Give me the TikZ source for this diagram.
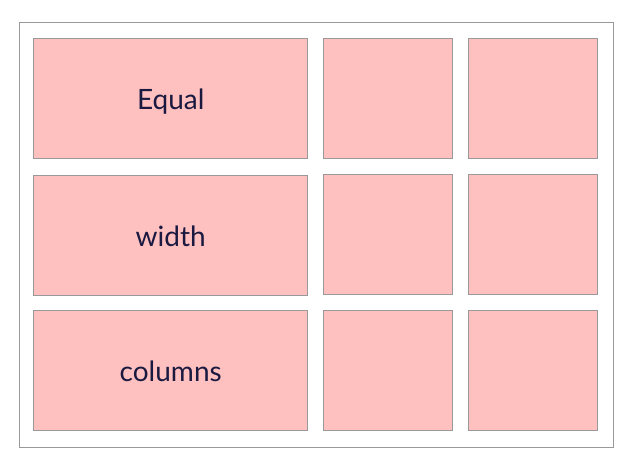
\documentclass[tikz,border=0pt]{standalone}
\usepackage{fontspec}
\setmainfont{Lato}
\usepackage{xcolor}
\definecolor{cellpink}{HTML}{FFC0C0}
\definecolor{cellline}{HTML}{999999}
\definecolor{celltext}{HTML}{1A1A40}

\begin{document}
\begin{tikzpicture}[x=1pt,y=-1pt,
    cell/.style={draw=cellline, fill=cellpink, line width=0.8pt, anchor=north west,
                 inner sep=0pt, text height=21pt, text depth=0pt,
                 font=\fontsize{28}{32}\selectfont, text=celltext},
    widecell/.style={cell, minimum width=274pt, minimum height=120pt},
    smallcell/.style={cell, minimum width=129pt, minimum height=120pt}]
            % Fix the page size
            \useasboundingbox (0,0) rectangle (641,468);

            % Outer frame
            \draw[cellline, line width=0.8pt] (19.3,22.5) rectangle (613.3,447.3);

            % Left column (the wide one)
            \node[widecell] (equal) at (33.3,38.3) {Equal};
            \node[widecell] (width) at (33.3,175.3) {width};
            \node[widecell] (columns) at (33.3,310.3) {columns};

            % Middle column
            \node[smallcell] (midA) at (323.3,38.3) {};
            \node[smallcell] (midB) at (323.3,174.3) {};
            \node[smallcell] (midC) at (323.3,310.3) {};

            % Right column
            \node[smallcell] (rightA) at (468.3,38.3) {};
            \node[smallcell] (rightB) at (468.3,174.3) {};
            \node[smallcell] (rightC) at (468.3,310.3) {};
        \end{tikzpicture}
\end{document}
